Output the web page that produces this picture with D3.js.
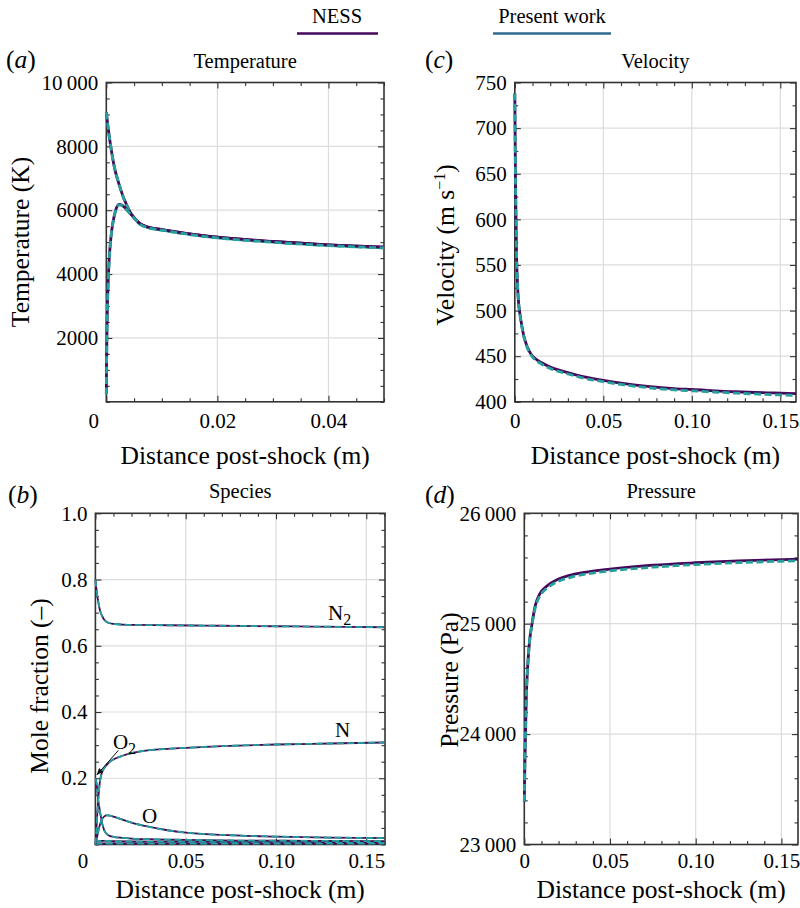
<!DOCTYPE html>
<html><head><meta charset="utf-8">
<script src="https://cdn.jsdelivr.net/npm/d3@7"></script>
<style>
body{margin:0;background:#fff}
text{font-family:"Liberation Serif","Times New Roman",serif;fill:#000}
</style>
</head><body>
<script>
// ---------------- DATA ----------------
const seriesNames = ["NESS", "Present work"];

// Temperature (K) vs distance (m): translational and vibrational
const tempTransX = [0, 0.0003, 0.0006, 0.001, 0.0015, 0.002, 0.0025, 0.003, 0.0035, 0.004, 0.0045, 0.005, 0.006, 0.007, 0.008, 0.01, 0.0125, 0.015, 0.0175, 0.02, 0.025, 0.03, 0.035, 0.04, 0.045, 0.05];
const tempTransNess = [9070, 8620, 8230, 7780, 7310, 6980, 6700, 6440, 6230, 6040, 5880, 5760, 5590, 5500, 5450, 5395, 5320, 5260, 5205, 5155, 5080, 5020, 4965, 4915, 4875, 4845];
const tempTransPresent = [9070, 8620, 8230, 7780, 7310, 6980, 6700, 6440, 6230, 6040, 5880, 5750, 5575, 5485, 5430, 5375, 5300, 5240, 5185, 5135, 5060, 4998, 4942, 4893, 4852, 4820];
const tempVibX = [0, 0.00005, 0.0001, 0.0002, 0.0003, 0.0005, 0.0007, 0.001, 0.0014, 0.0018, 0.0023, 0.0028, 0.0033, 0.0038, 0.0043, 0.0048, 0.006, 0.008, 0.01, 0.015, 0.02, 0.03, 0.04, 0.05];
const tempVibNess = [250, 1200, 2000, 3000, 3600, 4400, 4900, 5400, 5800, 6060, 6180, 6160, 6090, 5990, 5900, 5810, 5590, 5450, 5395, 5260, 5155, 5020, 4915, 4845];
const tempVibPresent = [220, 1100, 1900, 2950, 3550, 4350, 4880, 5380, 5790, 6050, 6170, 6150, 6080, 5980, 5890, 5800, 5575, 5430, 5375, 5240, 5135, 4998, 4893, 4820];

// Velocity (m/s)
const velX = [0, 0.0002, 0.0004, 0.0007, 0.001, 0.0015, 0.002, 0.0025, 0.003, 0.004, 0.005, 0.006, 0.008, 0.01, 0.0125, 0.015, 0.02, 0.03, 0.04, 0.05, 0.06, 0.075, 0.09, 0.1, 0.125, 0.15, 0.16];
const velNess = [738, 690, 640, 600, 560, 530, 512, 502, 495, 483, 473, 466, 456, 450, 446, 443, 438, 432, 427, 423.5, 420.5, 417, 414.5, 413.5, 411, 409.5, 409];
const velPresent = [738, 690, 640, 600, 560, 530, 511, 501, 494, 482, 472, 465, 455, 449, 444.5, 441.5, 436.5, 430.5, 425.5, 422, 419, 415.5, 413, 412, 409.5, 407.5, 407];

// Pressure (Pa)
const presX = [0, 0.0003, 0.0007, 0.0012, 0.002, 0.003, 0.0045, 0.0065, 0.009, 0.012, 0.015, 0.02, 0.027, 0.035, 0.05, 0.075, 0.1, 0.125, 0.16];
const presNess = [23390, 23700, 24000, 24350, 24620, 24830, 25000, 25170, 25270, 25325, 25362, 25405, 25440, 25465, 25495, 25530, 25552, 25569, 25585];
const presPresent = [23390, 23700, 24000, 24350, 24620, 24830, 24990, 25150, 25250, 25305, 25342, 25385, 25420, 25447, 25478, 25512, 25536, 25553, 25570];

// Species mole fractions
const n2X = [0, 0.0005, 0.001, 0.0015, 0.002, 0.0025, 0.003, 0.004, 0.005, 0.006, 0.008, 0.01, 0.015, 0.02, 0.04, 0.06, 0.08, 0.1, 0.12, 0.14, 0.16];
const n2Ness = [0.8, 0.775, 0.752, 0.736, 0.72, 0.708, 0.699, 0.687, 0.678, 0.673, 0.668, 0.666, 0.664, 0.663, 0.662, 0.661, 0.66, 0.659, 0.658, 0.657, 0.656];
const n2Present = [0.8, 0.775, 0.752, 0.736, 0.72, 0.708, 0.699, 0.687, 0.678, 0.673, 0.668, 0.666, 0.664, 0.663, 0.662, 0.661, 0.66, 0.659, 0.658, 0.657, 0.656];
const nX = [0, 0.0005, 0.001, 0.0015, 0.002, 0.0025, 0.003, 0.004, 0.005, 0.006, 0.008, 0.01, 0.015, 0.02, 0.03, 0.04, 0.05, 0.07, 0.1, 0.13, 0.16];
const nNess = [0, 0.04, 0.09, 0.13, 0.165, 0.19, 0.205, 0.222, 0.232, 0.239, 0.25, 0.257, 0.268, 0.276, 0.285, 0.289, 0.292, 0.297, 0.302, 0.305, 0.308];
const nPresent = [0, 0.04, 0.09, 0.13, 0.165, 0.19, 0.205, 0.222, 0.232, 0.239, 0.25, 0.257, 0.268, 0.276, 0.285, 0.289, 0.292, 0.297, 0.302, 0.305, 0.308];
const o2X = [0, 0.0005, 0.001, 0.0015, 0.002, 0.003, 0.004, 0.005, 0.006, 0.008, 0.01, 0.015, 0.02, 0.03, 0.05, 0.08, 0.12, 0.16];
const o2Ness = [0.2, 0.19, 0.165, 0.135, 0.118, 0.085, 0.058, 0.042, 0.033, 0.026, 0.023, 0.02, 0.018, 0.016, 0.014, 0.012, 0.011, 0.01];
const o2Present = [0.2, 0.19, 0.165, 0.135, 0.118, 0.085, 0.058, 0.042, 0.033, 0.026, 0.023, 0.02, 0.018, 0.016, 0.014, 0.012, 0.011, 0.01];
const oX = [0, 0.0005, 0.001, 0.002, 0.003, 0.004, 0.005, 0.006, 0.007, 0.008, 0.01, 0.015, 0.02, 0.03, 0.04, 0.05, 0.07, 0.1, 0.13, 0.16];
const oNess = [0, 0.01, 0.025, 0.05, 0.068, 0.079, 0.085, 0.088, 0.088, 0.087, 0.084, 0.075, 0.066, 0.053, 0.043, 0.036, 0.029, 0.024, 0.021, 0.019];
const oPresent = [0, 0.01, 0.025, 0.05, 0.068, 0.079, 0.085, 0.088, 0.088, 0.087, 0.084, 0.075, 0.066, 0.053, 0.043, 0.036, 0.029, 0.024, 0.021, 0.019];
const noX = [0, 0.0005, 0.001, 0.002, 0.004, 0.007, 0.01, 0.02, 0.04, 0.07, 0.1, 0.13, 0.16];
const noNess = [0, 0.004, 0.007, 0.01, 0.011, 0.0105, 0.01, 0.009, 0.0085, 0.008, 0.0078, 0.0076, 0.0075];
const noPresent = [0, 0.004, 0.007, 0.01, 0.011, 0.0105, 0.01, 0.009, 0.0085, 0.008, 0.0078, 0.0076, 0.0075];
const ionX = [0, 0.0005, 0.001, 0.002, 0.005, 0.01, 0.05, 0.1, 0.16];
const ionNess = [0, 0.001, 0.002, 0.003, 0.003, 0.003, 0.003, 0.003, 0.003];
const ionPresent = [0, 0.001, 0.002, 0.003, 0.003, 0.003, 0.003, 0.003, 0.003];

// Tick values and labels
const tempXTicks = [0, 0.02, 0.04];
const tempXLabels = ["0", "0.02", "0.04"];
const tempYTicks = [2000, 4000, 6000, 8000, 10000];
const tempYLabels = ["2000", "4000", "6000", "8000", "10\u2009000"];
const distTicks = [0, 0.05, 0.10, 0.15];
const distLabels = ["0", "0.05", "0.10", "0.15"];
const velYTicks = [400, 450, 500, 550, 600, 650, 700, 750];
const velYLabels = ["400", "450", "500", "550", "600", "650", "700", "750"];
const specYTicks = [0.2, 0.4, 0.6, 0.8, 1.0];
const specYLabels = ["0.2", "0.4", "0.6", "0.8", "1.0"];
const presYTicks = [23000, 24000, 25000, 26000];
const presYLabels = ["23\u2009000", "24\u2009000", "25\u2009000", "26\u2009000"];

// ---------------- STYLE ----------------
const C_NESS = "#46085a";
const C_PRES = "#25a09b";
const C_LEG_PRES = "#31688e";
const FONT = '"Liberation Serif","Times New Roman",serif';

const svg = d3.select("body").append("svg").attr("width", 800).attr("height", 908)
  .attr("font-family", FONT);

function drawPanel(p) {
  const x = d3.scaleLinear().domain(p.xDomain).range([p.left, p.right]);
  const y = d3.scaleLinear().domain(p.yDomain).range([p.bottom, p.top]);
  const g = svg.append("g");
  const clipId = "clip-" + p.id;
  svg.append("clipPath").attr("id", clipId).append("rect")
    .attr("x", p.left - 2).attr("y", p.top - 2).attr("width", p.right - p.left + 2).attr("height", p.bottom - p.top + 3);

  const inside = (v, d) => v > d[0] + 1e-12 && v < d[1] - 1e-12;
  // grid
  g.append("g").selectAll("line").data(p.xTicks.filter(v => inside(v, p.xDomain))).join("line")
    .attr("x1", d => x(d)).attr("x2", d => x(d)).attr("y1", p.top).attr("y2", p.bottom)
    .attr("stroke", "#dcdcdc").attr("stroke-width", 1.2);
  g.append("g").selectAll("line").data(p.yTicks.filter(v => inside(v, p.yDomain))).join("line")
    .attr("y1", d => y(d)).attr("y2", d => y(d)).attr("x1", p.left).attr("x2", p.right)
    .attr("stroke", "#dcdcdc").attr("stroke-width", 1.2);

  // frame
  g.append("rect").attr("x", p.left).attr("y", p.top).attr("width", p.right - p.left).attr("height", p.bottom - p.top)
    .attr("fill", "none").attr("stroke", "#333").attr("stroke-width", 1.6);

  // axes
  const major = 6, minor = 3.5;
  const minorX = d3.range(p.xDomain[0], p.xDomain[1] + 1e-9, p.xMinor).filter(v => !p.xTicks.some(t => Math.abs(t - v) < 1e-9));
  const minorY = d3.range(p.yDomain[0], p.yDomain[1] + 1e-9, p.yMinor).filter(v => !p.yTicks.some(t => Math.abs(t - v) < 1e-9));
  const styleAxis = a => {
    a.select(".domain").remove();
    a.attr("font-family", FONT).attr("font-size", 21);
    a.selectAll("line").attr("stroke", "#333").attr("stroke-width", 1.1);
    a.selectAll("text").attr("font-family", FONT).attr("font-size", 21).attr("fill", "#000");
  };
  const bx = g.append("g").attr("transform", `translate(0,${p.bottom})`)
    .call(d3.axisBottom(x).tickValues(p.xTicks).tickFormat((d, i) => p.xLabels[i]).tickSizeInner(-major).tickSizeOuter(0).tickPadding(p.xPad))
    .call(styleAxis);
  if (p.zeroShift) bx.selectAll(".tick").filter(d => d === 0).select("text").attr("dx", p.zeroShift);
  g.append("g").attr("transform", `translate(0,${p.bottom})`)
    .call(d3.axisBottom(x).tickValues(minorX).tickFormat("").tickSizeInner(-minor).tickSizeOuter(0)).call(styleAxis);
  g.append("g").attr("transform", `translate(0,${p.top})`)
    .call(d3.axisTop(x).tickValues(p.xTicks).tickFormat("").tickSizeInner(-major).tickSizeOuter(0)).call(styleAxis);
  g.append("g").attr("transform", `translate(0,${p.top})`)
    .call(d3.axisTop(x).tickValues(minorX).tickFormat("").tickSizeInner(-minor).tickSizeOuter(0)).call(styleAxis);
  g.append("g").attr("transform", `translate(${p.left},0)`)
    .call(d3.axisLeft(y).tickValues(p.yTicks).tickFormat((d, i) => p.yLabels[i]).tickSizeInner(-major).tickSizeOuter(0).tickPadding(8))
    .call(styleAxis);
  g.append("g").attr("transform", `translate(${p.left},0)`)
    .call(d3.axisLeft(y).tickValues(minorY).tickFormat("").tickSizeInner(-minor).tickSizeOuter(0)).call(styleAxis);
  g.append("g").attr("transform", `translate(${p.right},0)`)
    .call(d3.axisRight(y).tickValues(p.yTicks).tickFormat("").tickSizeInner(-major).tickSizeOuter(0)).call(styleAxis);
  g.append("g").attr("transform", `translate(${p.right},0)`)
    .call(d3.axisRight(y).tickValues(minorY).tickFormat("").tickSizeInner(-minor).tickSizeOuter(0)).call(styleAxis);

  // series (drawn over the frame, as in the reference)
  const lg = g.append("g").attr("clip-path", `url(#${clipId})`);
  const line = d3.line().x(d => x(d[0])).y(d => y(d[1])).curve(d3.curveMonotoneX);
  p.series.forEach(s => {
    lg.append("path").datum(d3.zip(s.x, s.y)).attr("d", line)
      .attr("fill", "none").attr("stroke", s.color).attr("stroke-width", s.width)
      .attr("stroke-dasharray", s.dash || null).attr("stroke-linejoin", "round");
  });

  // title
  g.append("text").attr("x", (p.left + p.right) / 2).attr("y", p.top - 15).attr("text-anchor", "middle")
    .attr("font-size", 20.5).text(p.title);
  // x label
  g.append("text").attr("x", (p.left + p.right) / 2).attr("y", p.xLabelY).attr("text-anchor", "middle")
    .attr("font-size", 25.5).text("Distance post-shock (m)");
  // y label
  const yl = g.append("text").attr("transform", `translate(${p.yLabelX},${p.yLabelY}) rotate(-90)`)
    .attr("text-anchor", "middle").attr("font-size", 25.5);
  p.yLabel(yl);
  // panel letter
  const pl = g.append("text").attr("x", p.letterX).attr("y", p.letterY).attr("font-size", 25.5);
  pl.append("tspan").text("(");
  pl.append("tspan").attr("font-style", "italic").text(p.letter);
  pl.append("tspan").text(")");
  return { x, y, g };
}

function pair(xArr, ness, pres, w) {
  return [
    { x: xArr, y: ness, color: C_NESS, width: w },
    { x: xArr, y: pres, color: C_PRES, width: w, dash: "7,3.5" }
  ];
}

// Panel (a) Temperature
drawPanel({
  id: "a", left: 106.3, right: 384, top: 82.5, bottom: 401.8,
  xDomain: [0, 0.05], yDomain: [0, 10000], xMinor: 0.005, yMinor: 500,
  xTicks: tempXTicks, xLabels: tempXLabels, yTicks: tempYTicks, yLabels: tempYLabels,
  zeroShift: -13, xPad: 11, title: "Temperature", xLabelY: 464, yLabelX: 29, yLabelY: 242,
  yLabel: t => t.text("Temperature (K)"),
  letter: "a", letterX: 6, letterY: 68,
  series: [...pair(tempTransX, tempTransNess, tempTransPresent, 2.8), ...pair(tempVibX, tempVibNess, tempVibPresent, 2.8)]
});

// Panel (c) Velocity
drawPanel({
  id: "c", left: 514.8, right: 796, top: 82.5, bottom: 401.8,
  xDomain: [0, (796 - 514.8) / 1770], yDomain: [400, 750], xMinor: 0.01, yMinor: 25,
  xTicks: distTicks, xLabels: distLabels, yTicks: velYTicks, yLabels: velYLabels,
  xPad: 11, title: "Velocity", xLabelY: 464, yLabelX: 454, yLabelY: 245,
  yLabel: t => {
    t.append("tspan").text("Velocity (m s");
    t.append("tspan").attr("font-size", 16).attr("dy", "-0.55em").text("\u22121");
    t.append("tspan").attr("dy", "0.35em").text(")");
  },
  letter: "c", letterX: 425, letterY: 68,
  series: pair(velX, velNess, velPresent, 2.8)
});

// Panel (b) Species
const pb = drawPanel({
  id: "b", left: 95.4, right: 385, top: 513.3, bottom: 844.5,
  xDomain: [0, (385 - 95.4) / 1806], yDomain: [0, 1], xMinor: 0.01, yMinor: 0.05,
  xTicks: distTicks, xLabels: distLabels, yTicks: specYTicks, yLabels: specYLabels,
  zeroShift: -13, xPad: 9, title: "Species", xLabelY: 898, yLabelX: 48, yLabelY: 686,
  yLabel: t => t.text("Mole fraction (\u2013)"),
  letter: "b", letterX: 8, letterY: 503,
  series: [
    ...pair(ionX, ionNess, ionPresent, 1.8),
    ...pair(noX, noNess, noPresent, 1.8),
    ...pair(o2X, o2Ness, o2Present, 1.8),
    ...pair(oX, oNess, oPresent, 1.8),
    ...pair(nX, nNess, nPresent, 1.8),
    ...pair(n2X, n2Ness, n2Present, 1.8)
  ]
});
// species labels
function speciesLabel(xv, yv, main, sub) {
  const t = pb.g.append("text").attr("x", pb.x(xv)).attr("y", pb.y(yv)).attr("font-size", 21).text(main);
  if (sub) t.append("tspan").attr("font-size", 16).attr("dy", "0.3em").text(sub);
}
speciesLabel(0.1288, 0.678, "N", "2");
speciesLabel(0.1326, 0.326, "N");
speciesLabel(0.0258, 0.066, "O");
speciesLabel(0.0097, 0.288, "O", "2");
svg.append("defs").append("marker").attr("id", "arrow").attr("viewBox", "0 0 10 10")
  .attr("refX", 9).attr("refY", 5).attr("markerWidth", 7).attr("markerHeight", 7).attr("orient", "auto")
  .append("path").attr("d", "M0,1 L10,5 L0,9 Z").attr("fill", "#111");
pb.g.append("line").attr("x1", pb.x(0.0127)).attr("y1", pb.y(0.284)).attr("x2", pb.x(0.0009)).attr("y2", pb.y(0.211))
  .attr("stroke", "#111").attr("stroke-width", 1).attr("marker-end", "url(#arrow)");

// Panel (d) Pressure
drawPanel({
  id: "d", left: 524.3, right: 798, top: 513.3, bottom: 844.5,
  xDomain: [0, (798 - 524.3) / 1714], yDomain: [23000, 26000], xMinor: 0.01, yMinor: 200,
  xTicks: distTicks, xLabels: distLabels, yTicks: presYTicks, yLabels: presYLabels,
  xPad: 9, title: "Pressure", xLabelY: 898, yLabelX: 458, yLabelY: 680,
  yLabel: t => t.text("Pressure (Pa)"),
  letter: "d", letterX: 425, letterY: 503,
  series: pair(presX, presNess, presPresent, 2.8)
});

// Legend
const legend = [
  { name: seriesNames[0], cx: 337, x1: 297, x2: 378, color: C_NESS },
  { name: seriesNames[1], cx: 552, x1: 493, x2: 611, color: C_LEG_PRES }
];
legend.forEach(l => {
  svg.append("text").attr("x", l.cx).attr("y", 23).attr("text-anchor", "middle").attr("font-size", 20.5).text(l.name);
  svg.append("line").attr("x1", l.x1).attr("x2", l.x2).attr("y1", 33.5).attr("y2", 33.5)
    .attr("stroke", l.color).attr("stroke-width", 2.6);
});
</script>
</body></html>
